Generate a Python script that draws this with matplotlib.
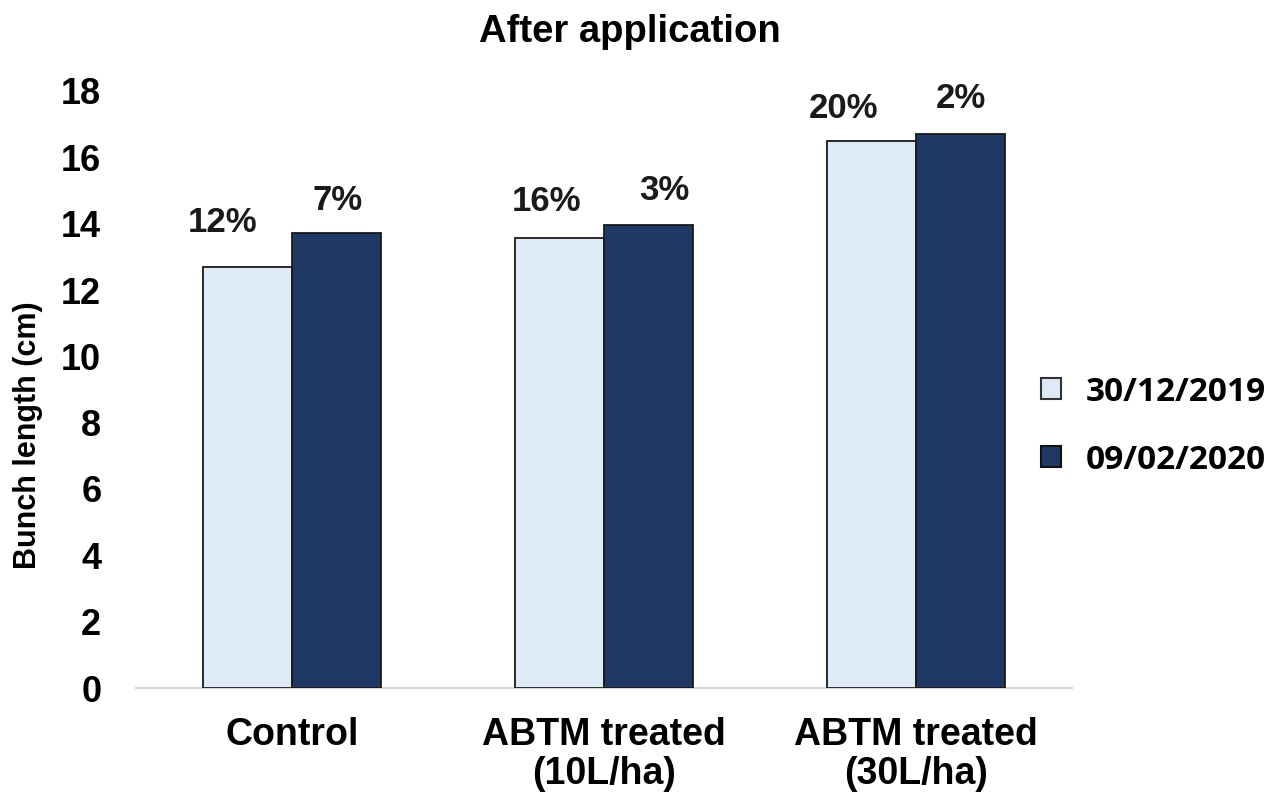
import matplotlib
matplotlib.use("Agg")
import matplotlib.pyplot as plt
import numpy as np
from matplotlib.patches import Patch

# Data
categories = ["Control", "ABTM treated\n(10L/ha)", "ABTM treated\n(30L/ha)"]
series_names = ["30/12/2019", "09/02/2020"]
first_date = [12.68, 13.58, 16.49]
second_date = [13.72, 13.95, 16.69]
first_pct = ["12%", "16%", "20%"]
second_pct = ["7%", "3%", "2%"]
y_ticks = [0, 2, 4, 6, 8, 10, 12, 14, 16, 18]

# Styling
light = "#DEEAF6"
dark = "#203864"
edge = "#1a1a1a"
main_font = "Liberation Sans"
legend_font = "Open Sans"

# per-label nudges (pixels) for the percentage annotations
first_dx = [-25, -13, -28]
first_dy = [35, 27, 23]
second_dx = [1, 16, 0]
second_dy = [23, 25, 26]

fig = plt.figure(figsize=(12.88, 7.96), dpi=100)
ax = fig.add_axes([136 / 1288, 1 - 688 / 796, 936 / 1288, (688 - 91) / 796])

x = np.arange(len(categories))
w = 0.285
b1 = ax.bar(x - w / 2, first_date, w, color=light, edgecolor=edge, linewidth=1.3, zorder=3)
b2 = ax.bar(x + w / 2, second_date, w, color=dark, edgecolor=edge, linewidth=1.3, zorder=3)

for rect, txt, dx, dy in zip(b1, first_pct, first_dx, first_dy):
    ax.annotate(txt, (rect.get_x() + rect.get_width() / 2, rect.get_height()),
                xytext=(dx, dy), textcoords="offset pixels", ha="center", va="baseline",
                fontsize=25, fontweight="bold", family=main_font, color="#1a1a1a")
for rect, txt, dx, dy in zip(b2, second_pct, second_dx, second_dy):
    ax.annotate(txt, (rect.get_x() + rect.get_width() / 2, rect.get_height()),
                xytext=(dx, dy), textcoords="offset pixels", ha="center", va="baseline",
                fontsize=25, fontweight="bold", family=main_font, color="#1a1a1a")

ax.set_xlim(-0.5, len(categories) - 0.5)
ax.set_ylim(0, 18)
ax.set_yticks(y_ticks)
ax.set_yticklabels([str(t) for t in y_ticks], fontsize=26, fontweight="bold", family=main_font)
ax.set_xticks(x)
ax.set_xticklabels(categories, fontsize=27, fontweight="bold", family=main_font, linespacing=1.1)
ax.tick_params(axis="y", length=0, pad=25)
ax.tick_params(axis="x", length=0, pad=21)
for s in ["top", "right", "left"]:
    ax.spines[s].set_visible(False)
ax.spines["bottom"].set_color("#d9d9d9")
ax.spines["bottom"].set_linewidth(1.6)
ax.spines["bottom"].set_zorder(1)

fig.text(630 / 1288, 1 - 42 / 796, "After application", ha="center", va="baseline",
         fontsize=27.5, fontweight="bold", family=main_font)
fig.text(28 / 1288, 1 - 435 / 796, "Bunch length (cm)", ha="center", va="center",
         rotation=90, fontsize=22, fontweight="bold", family=main_font)

handles = [Patch(facecolor=light, edgecolor="#333333", linewidth=1.5),
           Patch(facecolor=dark, edgecolor="#111111", linewidth=1.5)]
fig.legend(handles, series_names, loc="center left", bbox_to_anchor=(1041 / 1288, 1 - 426 / 796),
           frameon=False, borderpad=0, borderaxespad=0, handlelength=0.6, handleheight=0.6,
           handletextpad=0.75, labelspacing=1.05,
           prop={"family": legend_font, "weight": "bold", "size": 24})

fig.savefig("out.png", dpi=100)
